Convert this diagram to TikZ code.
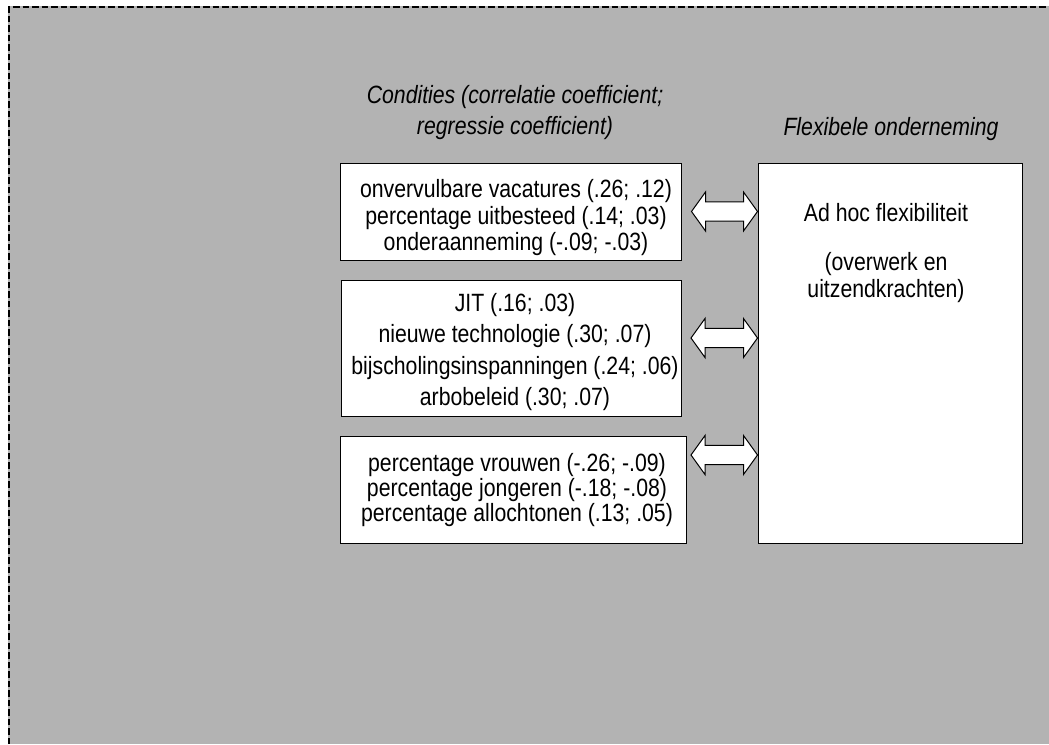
\documentclass[tikz,border=0pt]{standalone}
\usepackage{fontspec}
\setmainfont{Liberation Sans}[FakeStretch=0.85]
\usetikzlibrary{calc}
\definecolor{panelgray}{RGB}{179,179,179}
\begin{document}
\begin{tikzpicture}[x=1pt,y=-1pt,
  box/.style={draw=black, line width=1pt, fill=white, inner sep=0pt},
  txt/.style={align=center, inner sep=0pt, font=\fontsize{25}{#1}\selectfont},
  head/.style={align=center, inner sep=0pt, font=\itshape\fontsize{25}{31}\selectfont},
  blockarrow/.style={draw=black, fill=white, line width=1pt, line join=miter,
    to path={let \p1=(\tikztostart), \p2=(\tikztotarget) in
      (\x1,\y1) -- (\x1+14pt,\y1+19.5pt) -- (\x1+14pt,\y1+9.7pt)
      -- (\x2-14pt,\y1+9.7pt) -- (\x2-14pt,\y1+19.5pt) -- (\x2,\y1)
      -- (\x2-14pt,\y1-19.5pt) -- (\x2-14pt,\y1-9.7pt)
      -- (\x1+14pt,\y1-9.7pt) -- (\x1+14pt,\y1-19.5pt) -- cycle}}]
\useasboundingbox (0,0) rectangle (1049,744);
\fill[white] (0,0) rectangle (1049,744);
% grey panel with dashed frame
\fill[panelgray] (8,6) rectangle (1049,744);
\draw[line width=2.6pt, dash pattern=on 6.5pt off 3pt] (9,744) -- (9,7) -- (1049,7);

% headings
\node[head] (h1) at (515,113) {Condities (correlatie coefficient;\\regressie coefficient)};
\node[head, anchor=base] (h2) at (891,135) {Flexibele onderneming};

% condition boxes
\node[box, minimum width=341pt, minimum height=97pt] (b1) at (510.5,211.5) {};
\node[box, minimum width=340pt, minimum height=136pt] (b2) at (511,348) {};
\node[box, minimum width=346pt, minimum height=107pt] (b3) at (513,489.5) {};
\node[box, minimum width=264pt, minimum height=380pt] (R) at (890,353) {};

\node[txt=26.5] (t1) at (516,218) {onvervulbare vacatures (.26; .12)\\percentage uitbesteed (.14; .03)\\onderaanneming (-.09; -.03)};
\node[txt=31.3] (t2) at (515,352) {JIT (.16; .03)\\nieuwe technologie (.30; .07)\\bijscholingsinspanningen (.24; .06)\\arbobeleid (.30; .07)};
\node[txt=25] (t3) at (517,490) {percentage vrouwen (-.26; -.09)\\percentage jongeren (-.18; -.08)\\percentage allochtonen (.13; .05)};
\node[txt=27] (t4) at (886,253) {Ad hoc flexibiliteit\\[22pt](overwerk en\\uitzendkrachten)};

% double block arrows
\coordinate (a1s) at ([xshift=10pt]b1.east);
\coordinate (a2s) at (691,338);
\coordinate (a3s) at (691,455);
\path[blockarrow] (a1s) to (R.west |- a1s);
\path[blockarrow] (a2s) to (R.west |- a2s);
\path[blockarrow] (a3s) to (R.west |- a3s);
\end{tikzpicture}
\end{document}
